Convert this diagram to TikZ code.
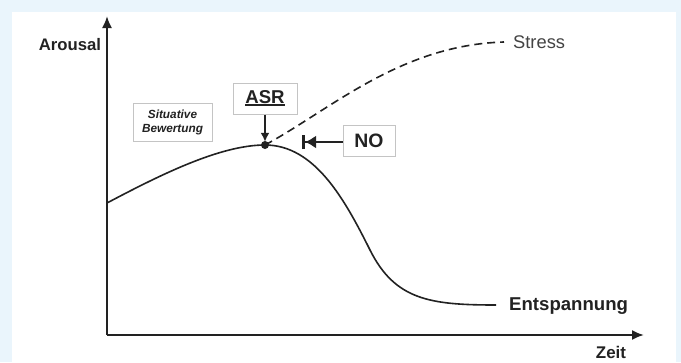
\documentclass[tikz,border=0pt]{standalone}
\usepackage{fontspec}
\setmainfont{Liberation Sans}
\usetikzlibrary{arrows.meta}
\definecolor{panelblue}{HTML}{EAF5FC}
\definecolor{ink}{HTML}{222222}
\definecolor{boxgray}{HTML}{C4C4C4}
\newcommand\asrline[1]{\setbox0\hbox{#1}\rlap{\rule[-3pt]{\wd0}{2pt}}\box0}
\tikzset{
    labelbox/.style={draw=boxgray, line width=1pt, fill=white, inner sep=0pt, align=center, text=ink},
    axis/.style={draw=ink, line width=2pt, -{Latex[length=12pt,width=10pt]}},
    curve/.style={draw=ink, line width=1.6pt},
}
\begin{document}
\begin{tikzpicture}[x=1pt,y=-1pt]
        \fill[panelblue] (0,0) rectangle (681,362);
        \fill[white] (12,12) rectangle (676,362);
        \useasboundingbox (0,0) rectangle (681,362);

        \coordinate (O) at (107,335);
        \coordinate (Ytop) at (107,16);
        \coordinate (Xend) at (644,335);
        \draw[axis] (O) -- (Ytop);
        \draw[axis] (O) -- (Xend);
        \node[text=ink, font=\bfseries\fontsize{16.7}{18}\selectfont] (arousal) at (70,45) {Arousal};
        \node[text=ink, font=\bfseries\fontsize{16.9}{18}\selectfont] (zeit) at (611,352) {Zeit};
        %%%%%%%%%%

        \coordinate (S) at (107,203);
        \node[circle, fill=ink, inner sep=0pt, minimum size=8pt] (P) at (265,145) {};
        \coordinate (M) at (370,250);
        \coordinate (E) at (496,305);
        \coordinate (T) at (504,42);
        \draw[curve] (S) .. controls (160,175) and (220,145) .. (P.center)
            .. controls (315,145) and (345,200) .. (M)
            .. controls (395,300) and (430,305) .. (E);
        \draw[curve, dash pattern=on 8pt off 5pt] (P.center) .. controls (330,110) and (400,45) .. (T);
        \node[anchor=west, text=ink!85, font=\fontsize{18.3}{20}\selectfont, inner sep=0pt] (stress) at (513,42) {Stress};
        \node[anchor=west, text=ink, font=\bfseries\fontsize{18.6}{20}\selectfont, inner sep=0pt] (relax) at (509,306) {Entspannung};
        %%%%%%%%%%

        \node[labelbox, minimum width=79pt, minimum height=38pt, font=\bfseries\itshape\fontsize{11.8}{14}\selectfont] (sit) at (172.5,122) {Situative\\Bewertung};
        \node[labelbox, minimum width=64pt, minimum height=31pt, font=\bfseries\fontsize{18.6}{20}\selectfont] (asr) at (265,98.5) {\asrline{ASR}};
        \node[labelbox, minimum width=52pt, minimum height=31pt, font=\bfseries\fontsize{19.4}{20}\selectfont] (no) at (369,140.5) {NO};
        \coordinate (Nstop) at (302,142);
        \draw[draw=ink, line width=1.8pt, -{Latex[length=9pt,width=9pt]}] (asr.south) -- ([yshift=-1pt]P.north);
        \draw[draw=ink, line width=2pt, -{Latex[length=11pt,width=13pt]Bar[width=14pt,line width=3pt]}] (no.west |- Nstop) -- (Nstop);
    \end{tikzpicture}
\end{document}
